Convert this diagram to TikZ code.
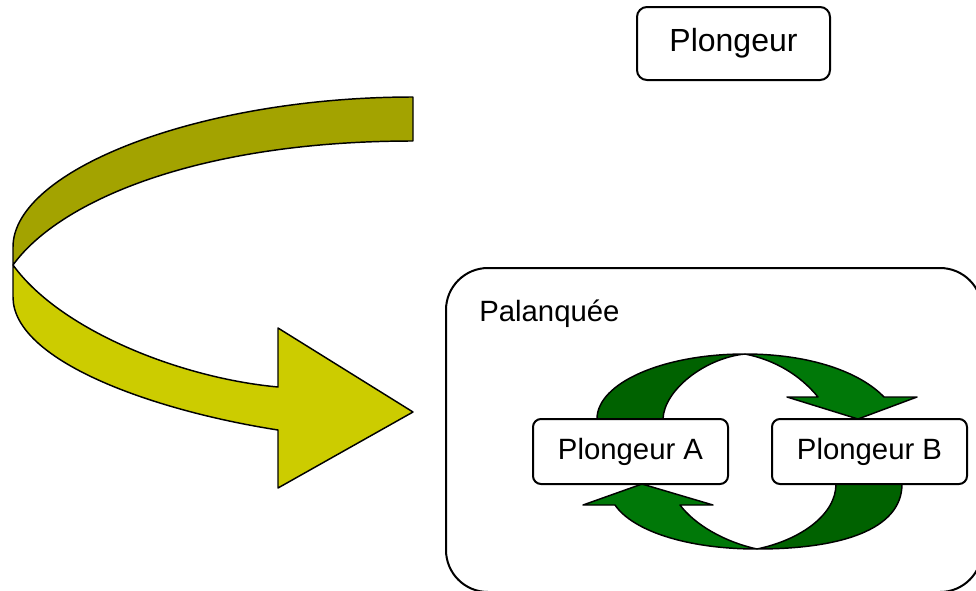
\documentclass[tikz,border=0pt]{standalone}
\usepackage{fontspec}
\setmainfont{Liberation Sans}
\definecolor{olivedark}{RGB}{163,163,0}
\definecolor{olivelight}{RGB}{204,204,0}
\definecolor{leafdark}{RGB}{0,98,0}
\definecolor{leaflight}{RGB}{0,120,8}

\begin{document}
\begin{tikzpicture}[x=0.75pt, y=-0.75pt]
	\tikzstyle{every node}=[inner sep=0pt, align=center, font=\fontsize{22}{26}\selectfont]
	\tikzstyle{diver}=[draw, line width=1.5pt, fill=white, rounded corners=6pt, minimum width=146.25pt, minimum height=48.75pt]
	\tikzstyle{band}=[draw, line width=1.1pt, line join=round]
	\useasboundingbox (0,0) rectangle (976,590);
	\node (group) at (714,430) [draw, line width=1.5pt, rounded corners=31.5pt, minimum width=402pt, minimum height=243pt] {};
	\node (grouplabel) at (479,321) [anchor=base west] {Palanquée};
	\draw [band, fill=olivedark] (413,97) .. controls (200,97) and (13,170) .. (13,247) -- (13,265) .. controls (60,200) and (200,141) .. (413,141) -- cycle;
	\draw [band, fill=olivelight] (13,265) -- (13,297) .. controls (13,360) and (150,410) .. (278,430) -- (278,488) -- (413,412) -- (278,328) -- (278,387) .. controls (180,378) and (60,330) .. (13,265) -- cycle;
	\draw [band, fill=leafdark] (597,419) .. controls (597,383) and (663,354) .. (745,354) .. controls (705,358) and (664,390) .. (663,419) -- cycle;
	\draw [band, fill=leaflight] (745,354) .. controls (810,354) and (860,372) .. (884,397) -- (917,397) -- (858,419) -- (787,397) -- (818,397) .. controls (800,375) and (775,360) .. (745,354) -- cycle;
	\draw [band, fill=leafdark] (902,484) .. controls (902,530) and (840,549) .. (757,549) .. controls (800,540) and (836,515) .. (836,484) -- cycle;
	\draw [band, fill=leaflight] (757,549) .. controls (685,549) and (632,530) .. (615,505) -- (583,505) -- (642,484) -- (713,505) -- (680,505) .. controls (695,525) and (725,542) .. (757,549) -- cycle;
	\node [diver] (A) at (630.5,451.5) {Plongeur A};
	\node [diver] (B) at (869.5,451.5) {Plongeur B};
	\node [diver, minimum width=144.75pt, minimum height=54.75pt, rounded corners=7.5pt, font=\fontsize{24}{28}\selectfont] (top) at (733.5,43.5) {Plongeur};
\end{tikzpicture}
\end{document}
